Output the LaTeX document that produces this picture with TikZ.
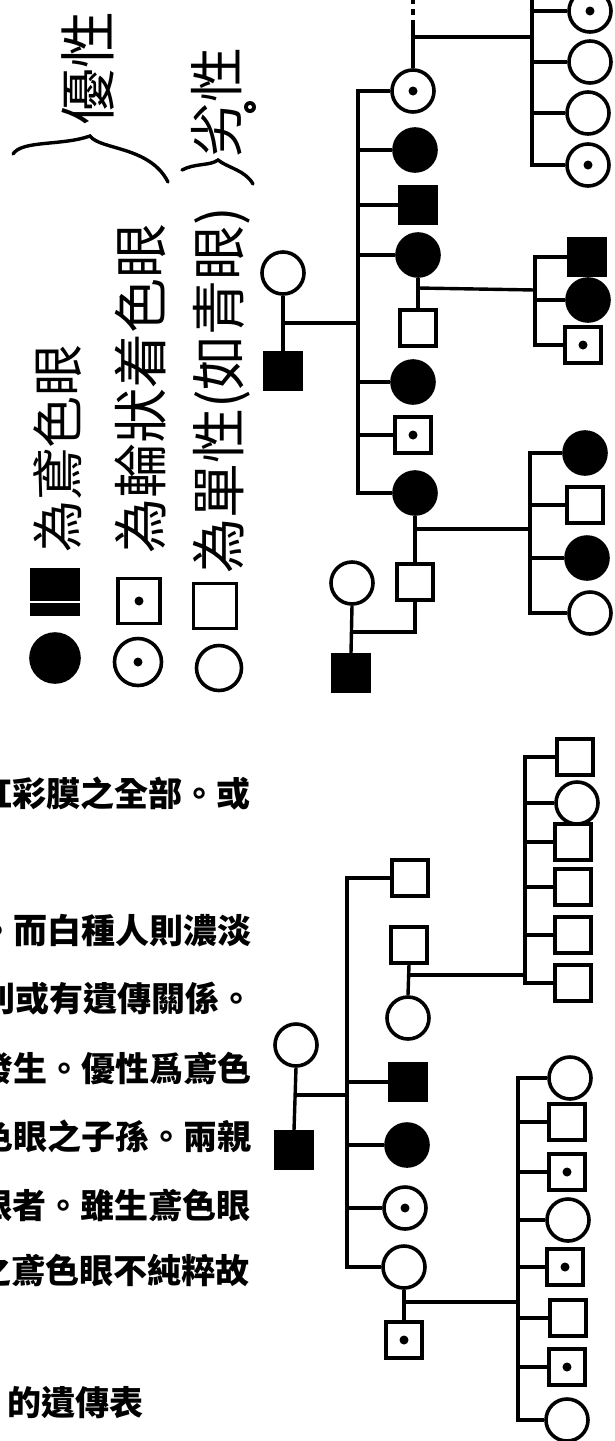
\documentclass[tikz,border=0pt]{standalone}
\usepackage{fontspec}
\newfontfamily\cjk{Noto Sans CJK TC}
\begin{document}
\begin{tikzpicture}[x=1pt,y=-1pt,
  pm/.style={rectangle,draw,line width=3.6pt,minimum size=36pt,inner sep=0pt},
  pf/.style={circle,draw,line width=3.6pt,minimum size=42pt,inner sep=0pt},
  aff/.style={fill=black},
  car/.style={path picture={\fill[black] (path picture bounding box.center) circle (4.5pt);}},
  lnk/.style={line width=3.4pt},
  hand/.style={font=\cjk\fontsize{55pt}{55pt}\selectfont,rotate=90,inner sep=0pt},
  prt/.style={font=\cjk\bfseries\fontsize{34pt}{34pt}\selectfont,inner sep=0pt},
  brc/.style={line width=3.4pt,line cap=round}
]
\useasboundingbox (0,0) rectangle (615,1441);

% ---------- legend ----------
\node[pm,aff,minimum width=46pt,minimum height=45pt] (lg1) at (55,592) {};
\draw[white,line width=1.5pt] ([yshift=-10pt]lg1.west) -- ([yshift=-10pt]lg1.east);
\node[pf,aff,minimum size=48pt] (lg2) at (55,658) {};
\node[pm,car,minimum width=42pt,minimum height=45pt] (lg3) at (139,601) {};
\node[pf,car,minimum size=47pt] (lg4) at (138,662) {};
\node[pm,minimum width=43pt,minimum height=45pt] (lg5) at (215,606) {};
\node[pf,minimum size=45pt] (lg6) at (219,668) {};

\node[hand,font=\cjk\fontsize{52pt}{52pt}\selectfont] (w1) at (58,448) {為鳶色眼};
\node[hand] (w2) at (140,388) {為輪狀着色眼};
\node[hand] (w3) at (222,390) {為單性(如青眼)};
\node[hand,font=\cjk\fontsize{57pt}{57pt}\selectfont] (w4) at (88,68) {優性};
\node[hand] (w5) at (217,102) {劣性};
\fill (250,107) circle (6pt);
\fill[white] (250,107) circle (2pt);

\draw[brc] (13,154) .. controls (22,140) and (62,146) .. (90,136)
           .. controls (100,150) and (150,146) .. (168,182);
\draw[brc] (182,170) .. controls (195,163) and (210,166) .. (218,160)
           .. controls (228,168) and (245,170) .. (253,184);

% ---------- printed text ----------
\node[prt,anchor=east] (p1) at (251,793) {虹彩膜之全部。或};
\node[prt,anchor=east] (p2) at (252,931) {。而白種人則濃淡};
\node[prt,anchor=east] (p3) at (254,999) {則或有遺傳關係。};
\node[prt,anchor=east] (p4) at (252,1068) {發生。優性爲鳶色};
\node[prt,anchor=east] (p5) at (252,1136) {色眼之子孫。兩親};
\node[prt,anchor=east] (p6) at (251,1205) {眼者。雖生鳶色眼};
\node[prt,anchor=east] (p7) at (250,1270) {之鳶色眼不純粹故};
\node[prt,anchor=west] (p8) at (7,1403) {的遺傳表};

% ---------- top pedigree ----------
\node[pf] (a1) at (283,273) {};
\node[pm,aff] (a2) at (283,371) {};
\coordinate (s1) at (358,323);
\draw[lnk] (a1.south) -- (a2.north);
\draw[lnk] (a1.south |- s1) -- (s1);

\node[pf,car] (b1) at (413,91) {};
\node[pf,aff] (b2) at (415,150) {};
\node[pm,aff] (b3) at (418,205) {};
\node[pf,aff] (b4) at (418,255) {};
\node[pf,aff] (b5) at (413,382) {};
\node[pm,car] (b6) at (413,435) {};
\node[pf,aff] (b7) at (415,493) {};
\draw[lnk] (b1.west) -| (s1) |- (b7.west);
\foreach \n in {b2,b3,b4,b5,b6} \draw[lnk] (\n.west) -- (\n.west -| s1);

% b1 family
\coordinate (j1u) at (413,26);
\coordinate (offp) at (413,-3);
\coordinate (j1) at (413,37);
\coordinate (t1) at (532,90);
\coordinate (t1top) at (532,-3);
\draw[lnk] (b1.north) -- (j1u);
\draw[lnk,dash pattern=on 6pt off 5pt] (j1u) -- (offp);
\draw[lnk] (j1) -- (j1 -| t1);
\node[pf,car] (e1) at (590,11) {};
\node[pf] (e2) at (590,62) {};
\node[pf] (e3) at (588,113) {};
\node[pf,car] (e4) at (588,165) {};
\draw[lnk] (t1top) |- (e4.west);
\foreach \n in {e1,e2,e3} \draw[lnk] (\n.west) -- (\n.west -| t1);

% b4 family
\node[pm] (c4) at (418,328) {};
\draw[lnk] (b4.south) -- (c4.north);
\coordinate (j4) at (418,288);
\coordinate (t2) at (535,290);
\draw[lnk] (j4) -- (t2);
\node[pm,aff] (f1) at (587,257) {};
\node[pf,aff] (f2) at (588,300) {};
\node[pm,car] (f3) at (583,345) {};
\draw[lnk] (f1.west) -| (t2) |- (f3.west);
\draw[lnk] (f2.west) -- (f2.west -| t2);

% b7 family
\node[pm] (c7) at (415,582) {};
\draw[lnk] (b7.south) -- (c7.north);
\coordinate (j7) at (415,529);
\coordinate (t3) at (530,529);
\draw[lnk] (j7) -- (t3);
\node[pf,aff] (g1) at (585,453) {};
\node[pm] (g2) at (585,505) {};
\node[pf,aff] (g3) at (587,558) {};
\node[pf] (g4) at (590,613) {};
\draw[lnk] (g1.west) -| (t3) |- (g4.west);
\draw[lnk] (g2.west) -- (g2.west -| t3);
\draw[lnk] (g3.west) -- (g3.west -| t3);

% parents of c7
\node[pf] (d1) at (352,583) {};
\node[pm,aff] (d2) at (351,673) {};
\draw[lnk] (d1.south) -- (d2.north);
\coordinate (jd) at (352,632);
\draw[lnk] (jd) -| (c7.south);

% ---------- bottom pedigree ----------
\node[pf] (h1) at (296,1045) {};
\node[pm,aff] (h2) at (294,1150) {};
\draw[lnk] (h1.south) -- (h2.north);
\coordinate (s2) at (347,1095);
\draw[lnk] (h1.south |- s2) -- (s2);

\node[pm] (i1) at (410,878) {};
\node[pm,aff] (i2) at (408,1082) {};
\node[pf,aff] (i3) at (407,1145) {};
\node[pf,car] (i4) at (405,1208) {};
\node[pf] (i5) at (404,1267) {};
\draw[lnk] (i1.west) -| (s2) |- (i5.west);
\foreach \n in {i2,i3,i4} \draw[lnk] (\n.west) -- (\n.west -| s2);

% i5 family
\node[pm,car] (k5) at (404,1340) {};
\draw[lnk] (i5.south) -- (k5.north);
\coordinate (j5) at (404,1302);
\coordinate (t5) at (518,1250);
\draw[lnk] (j5) -- (j5 -| t5);
\node[pf] (l1) at (570,1078) {};
\node[pm] (l2) at (567,1122) {};
\node[pm,car] (l3) at (567,1172) {};
\node[pf] (l4) at (568,1220) {};
\node[pm,car] (l5) at (565,1267) {};
\node[pm] (l6) at (568,1318) {};
\node[pm,car] (l7) at (567,1367) {};
\node[pf] (l8) at (567,1420) {};
\draw[lnk] (l1.west) -| (t5) |- (l8.west);
\foreach \n in {l2,l3,l4,l5,l6,l7} \draw[lnk] (\n.west) -- (\n.west -| t5);

% couple n
\node[pm] (n1) at (409,945) {};
\node[pf] (n2) at (408,1018) {};
\draw[lnk] (n1.south) -- (n2.north);
\coordinate (jn) at (408,975);
\coordinate (t6) at (525,900);
\draw[lnk] (jn) -- (jn -| t6);
\node[pm] (o1) at (575,757) {};
\node[pf] (o2) at (577,803) {};
\node[pm] (o3) at (573,842) {};
\node[pm] (o4) at (573,887) {};
\node[pm] (o5) at (573,935) {};
\node[pm] (o6) at (573,983) {};
\draw[lnk] (o1.west) -| (t6) |- (o6.west);
\foreach \n in {o2,o3,o4,o5} \draw[lnk] (\n.west) -- (\n.west -| t6);
\end{tikzpicture}
\end{document}
